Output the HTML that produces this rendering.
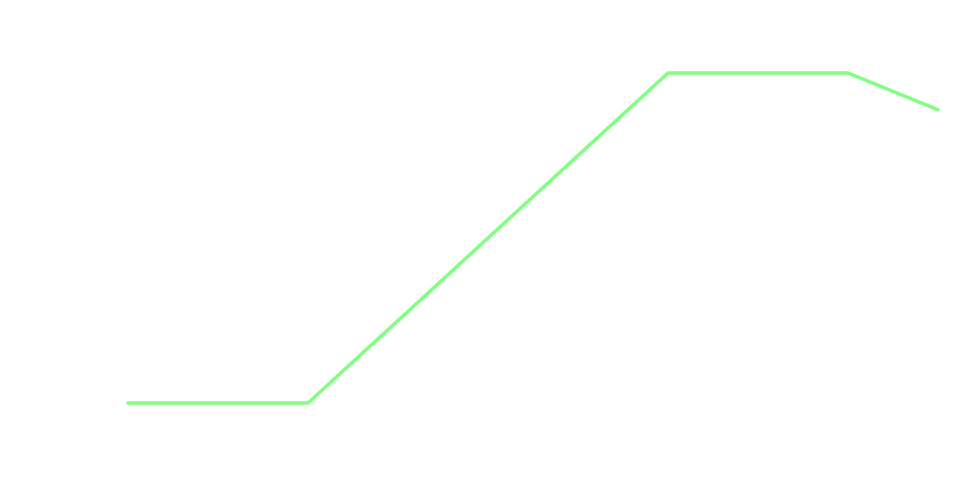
<!DOCTYPE html>
<html>
<head>
<meta charset="utf-8">
<style>
  html, body { margin: 0; padding: 0; background: #ffffff; }
  body { width: 976px; height: 478px; overflow: hidden; font-family: "Liberation Sans", sans-serif; }
  svg { display: block; }
</style>
</head>
<body>
<svg id="chart" width="976" height="478" viewBox="0 0 976 478" xmlns="http://www.w3.org/2000/svg">
  <g id="plot"></g>
</svg>
<script>
const xValues = [0, 1, 3, 4, 4.5];
const yValues = [10, 10, 100, 100, 90];

const xMin = 0, xMax = 4.5;
const yMin = 10, yMax = 100;
const pxLeft = 128, pxRight = 938;
const pxBottom = 403, pxTop = 73;

function xScale(v) { return pxLeft + (v - xMin) / (xMax - xMin) * (pxRight - pxLeft); }
function yScale(v) { return pxBottom - (v - yMin) / (yMax - yMin) * (pxBottom - pxTop); }

const plot = document.getElementById('plot');
const pts = xValues.map((x, i) => xScale(x).toFixed(1) + ',' + yScale(yValues[i]).toFixed(1)).join(' ');
const line = document.createElementNS('http://www.w3.org/2000/svg', 'polyline');
line.setAttribute('points', pts);
line.setAttribute('fill', 'none');
line.setAttribute('stroke', '#80ff80');
line.setAttribute('stroke-width', '3.5');
line.setAttribute('stroke-linejoin', 'round');
line.setAttribute('stroke-linecap', 'round');


plot.appendChild(line);
</script>
</body>
</html>
